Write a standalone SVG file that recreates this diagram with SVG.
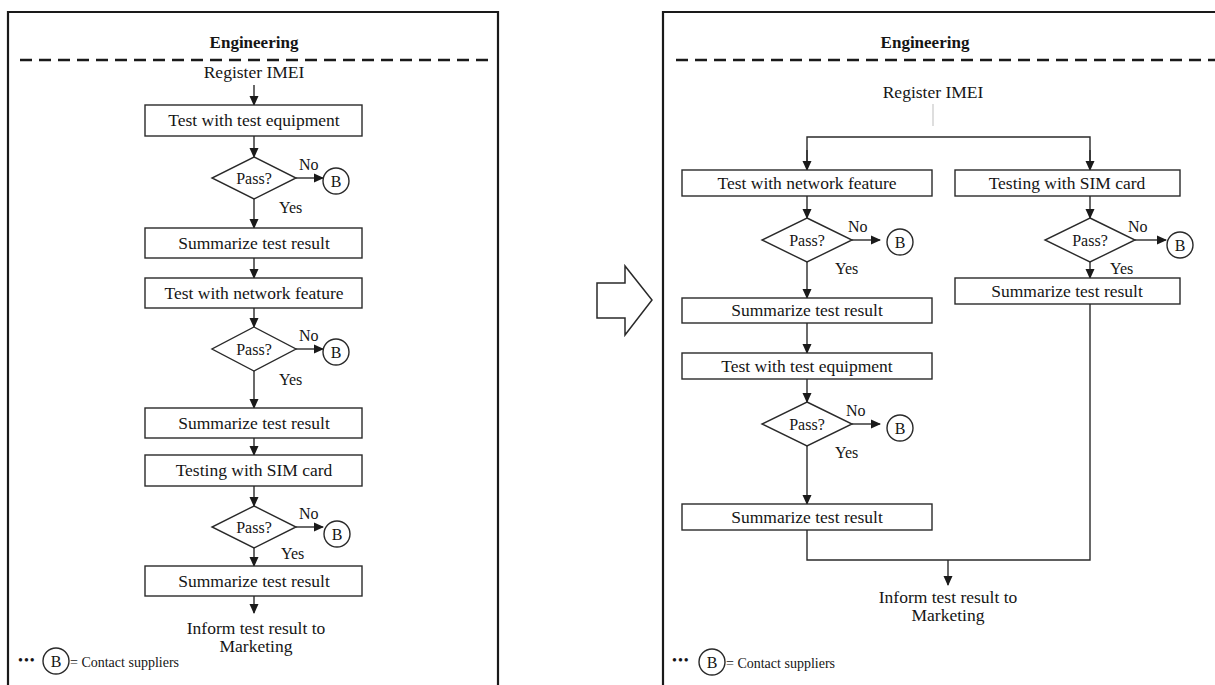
<svg xmlns="http://www.w3.org/2000/svg" width="1215" height="685" viewBox="0 0 1215 685">
<defs>
<marker id="ah" markerWidth="10" markerHeight="10" refX="9" refY="5" orient="auto" markerUnits="userSpaceOnUse">
<path d="M0,0.5 L10,5 L0,9.5 Z" fill="#1a1a1a"/>
</marker>
<style>
text{font-family:"Liberation Serif","Times New Roman",serif;fill:#151515}
.t{font-size:17.5px;text-anchor:middle}
.p{font-size:16px;text-anchor:middle}
.s{font-size:16px}
.h{font-size:17px;font-weight:bold;text-anchor:middle}
.lg{font-size:14px}
.box{fill:#fff;stroke:#2a2a2a;stroke-width:1.4}
.dia{fill:#fff;stroke:#2a2a2a;stroke-width:1.4}
.cir{fill:#fff;stroke:#2a2a2a;stroke-width:1.4}
.frame{fill:none;stroke:#1a1a1a;stroke-width:2.2}
.dash{fill:none;stroke:#1a1a1a;stroke-width:2.5;stroke-dasharray:12 7}
.c{fill:none;stroke:#2a2a2a;stroke-width:1.4}
.ca{fill:none;stroke:#2a2a2a;stroke-width:1.4;marker-end:url(#ah)}
</style>
</defs>
<rect width="1215" height="685" fill="#fff"/>

<g id="left-frame">
<path class="frame" d="M8,690 V12 H498 V690"/>
<text class="h" x="254" y="48">Engineering</text>
<line class="dash" x1="20" y1="60" x2="492" y2="60"/>
<text class="t" x="254" y="78">Register IMEI</text>
</g>
<g id="right-frame">
<path class="frame" d="M663,690 V12 H1216"/>
<text class="h" x="925" y="48">Engineering</text>
<line class="dash" x1="676" y1="60" x2="1215" y2="60"/>
<text class="t" x="933" y="98">Register IMEI</text>
</g>

<g id="shift-arrow">
<polygon points="597,283 625,283 625,266 652,300 625,335 625,318 597,318" fill="#fff" stroke="#2a2a2a" stroke-width="1.5"/>
</g>

<g id="connectors">
<line class="ca" x1="254" y1="85" x2="254" y2="105"/>
<line class="ca" x1="254" y1="136" x2="254" y2="157"/>
<line class="ca" x1="296" y1="178" x2="323" y2="178"/>
<line class="ca" x1="254" y1="199" x2="254" y2="228"/>
<line class="ca" x1="254" y1="258" x2="254" y2="278"/>
<line class="ca" x1="254" y1="308" x2="254" y2="327"/>
<line class="ca" x1="296" y1="349" x2="323" y2="349"/>
<line class="ca" x1="254" y1="371" x2="254" y2="408"/>
<line class="ca" x1="254" y1="438" x2="254" y2="455"/>
<line class="ca" x1="254" y1="486" x2="254" y2="506"/>
<line class="ca" x1="296" y1="527" x2="323" y2="527"/>
<line class="ca" x1="254" y1="548" x2="254" y2="566"/>
<line class="ca" x1="254" y1="596" x2="254" y2="613"/>
<line x1="933" y1="104" x2="933" y2="126" stroke="#ccc" stroke-width="1.3"/>
<path class="c" d="M807,168 V137 H1090 V168"/>
<line class="ca" x1="807" y1="150" x2="807" y2="170"/>
<line class="ca" x1="1090" y1="150" x2="1090" y2="170"/>
<line class="ca" x1="807" y1="196" x2="807" y2="218"/>
<line class="ca" x1="852" y1="240" x2="880" y2="240"/>
<line class="ca" x1="807" y1="262" x2="807" y2="298"/>
<line class="ca" x1="807" y1="323" x2="807" y2="353"/>
<line class="ca" x1="807" y1="379" x2="807" y2="402"/>
<line class="ca" x1="852" y1="424" x2="880" y2="424"/>
<line class="ca" x1="807" y1="446" x2="807" y2="504"/>
<line class="ca" x1="1090" y1="196" x2="1090" y2="218"/>
<line class="ca" x1="1135" y1="240" x2="1166" y2="240"/>
<line class="ca" x1="1090" y1="262" x2="1090" y2="278"/>
<path class="c" d="M807,530 V560 H1090 V304"/>
<line class="ca" x1="948" y1="560" x2="948" y2="585"/>
</g>

<g id="L-test-equipment"><rect class="box" x="145" y="105" width="217" height="31"/><text class="t" x="254" y="126">Test with test equipment</text></g>
<g id="L-pass1"><polygon class="dia" points="254,157 296,178 254,199 212,178"/><text class="p" x="254" y="184">Pass?</text><text class="s" x="299" y="170">No</text><text class="s" x="279" y="213">Yes</text></g>
<g id="L-B1"><circle class="cir" cx="336" cy="181" r="13"/><text class="p" x="336" y="187">B</text></g>
<g id="L-summary1"><rect class="box" x="145" y="228" width="217" height="30"/><text class="t" x="254" y="249">Summarize test result</text></g>
<g id="L-test-network"><rect class="box" x="145" y="278" width="217" height="30"/><text class="t" x="254" y="299">Test with network feature</text></g>
<g id="L-pass2"><polygon class="dia" points="254,327 296,349 254,371 212,349"/><text class="p" x="254" y="355">Pass?</text><text class="s" x="299" y="341">No</text><text class="s" x="279" y="385">Yes</text></g>
<g id="L-B2"><circle class="cir" cx="336" cy="352" r="13"/><text class="p" x="336" y="358">B</text></g>
<g id="L-summary2"><rect class="box" x="145" y="408" width="217" height="30"/><text class="t" x="254" y="429">Summarize test result</text></g>
<g id="L-test-sim"><rect class="box" x="145" y="455" width="217" height="31"/><text class="t" x="254" y="476">Testing with SIM card</text></g>
<g id="L-pass3"><polygon class="dia" points="254,506 296,527 254,548 212,527"/><text class="p" x="254" y="533">Pass?</text><text class="s" x="299" y="519">No</text><text class="s" x="281" y="559">Yes</text></g>
<g id="L-B3"><circle class="cir" cx="337" cy="534" r="13"/><text class="p" x="337" y="540">B</text></g>
<g id="L-summary3"><rect class="box" x="145" y="566" width="217" height="30"/><text class="t" x="254" y="587">Summarize test result</text></g>
<g id="L-inform"><text class="t" x="256" y="634">Inform test result to</text><text class="t" x="256" y="652">Marketing</text></g>
<g id="L-legend"><text class="lg" x="18" y="665" letter-spacing="1">•••</text><circle class="cir" cx="56" cy="661" r="13"/><text class="p" x="56" y="667">B</text><text class="lg" x="70" y="667">=  Contact suppliers</text></g>

<g id="R-test-network"><rect class="box" x="682" y="170" width="250" height="26"/><text class="t" x="807" y="189">Test with network feature</text></g>
<g id="R-pass1"><polygon class="dia" points="807,218 852,240 807,262 762,240"/><text class="p" x="807" y="246">Pass?</text><text class="s" x="848" y="232">No</text><text class="s" x="835" y="274">Yes</text></g>
<g id="R-B1"><circle class="cir" cx="900" cy="242" r="13"/><text class="p" x="900" y="248">B</text></g>
<g id="R-summary1"><rect class="box" x="682" y="298" width="250" height="25"/><text class="t" x="807" y="316">Summarize test result</text></g>
<g id="R-test-equipment"><rect class="box" x="682" y="353" width="250" height="26"/><text class="t" x="807" y="372">Test with test equipment</text></g>
<g id="R-pass2"><polygon class="dia" points="807,402 852,424 807,446 762,424"/><text class="p" x="807" y="430">Pass?</text><text class="s" x="846" y="416">No</text><text class="s" x="835" y="458">Yes</text></g>
<g id="R-B2"><circle class="cir" cx="900" cy="428" r="13"/><text class="p" x="900" y="434">B</text></g>
<g id="R-summary2"><rect class="box" x="682" y="504" width="250" height="26"/><text class="t" x="807" y="523">Summarize test result</text></g>
<g id="R-test-sim"><rect class="box" x="955" y="170" width="225" height="26"/><text class="t" x="1067" y="189">Testing with SIM card</text></g>
<g id="R-pass3"><polygon class="dia" points="1090,218 1135,240 1090,262 1045,240"/><text class="p" x="1090" y="246">Pass?</text><text class="s" x="1128" y="232">No</text><text class="s" x="1110" y="274">Yes</text></g>
<g id="R-B3"><circle class="cir" cx="1180" cy="245" r="13"/><text class="p" x="1180" y="251">B</text></g>
<g id="R-summary3"><rect class="box" x="955" y="278" width="225" height="26"/><text class="t" x="1067" y="297">Summarize test result</text></g>
<g id="R-inform"><text class="t" x="948" y="603">Inform test result to</text><text class="t" x="948" y="621">Marketing</text></g>
<g id="R-legend"><text class="lg" x="672" y="665" letter-spacing="1">•••</text><circle class="cir" cx="712" cy="662" r="13"/><text class="p" x="712" y="668">B</text><text class="lg" x="726" y="668">=  Contact suppliers</text></g>
</svg>
